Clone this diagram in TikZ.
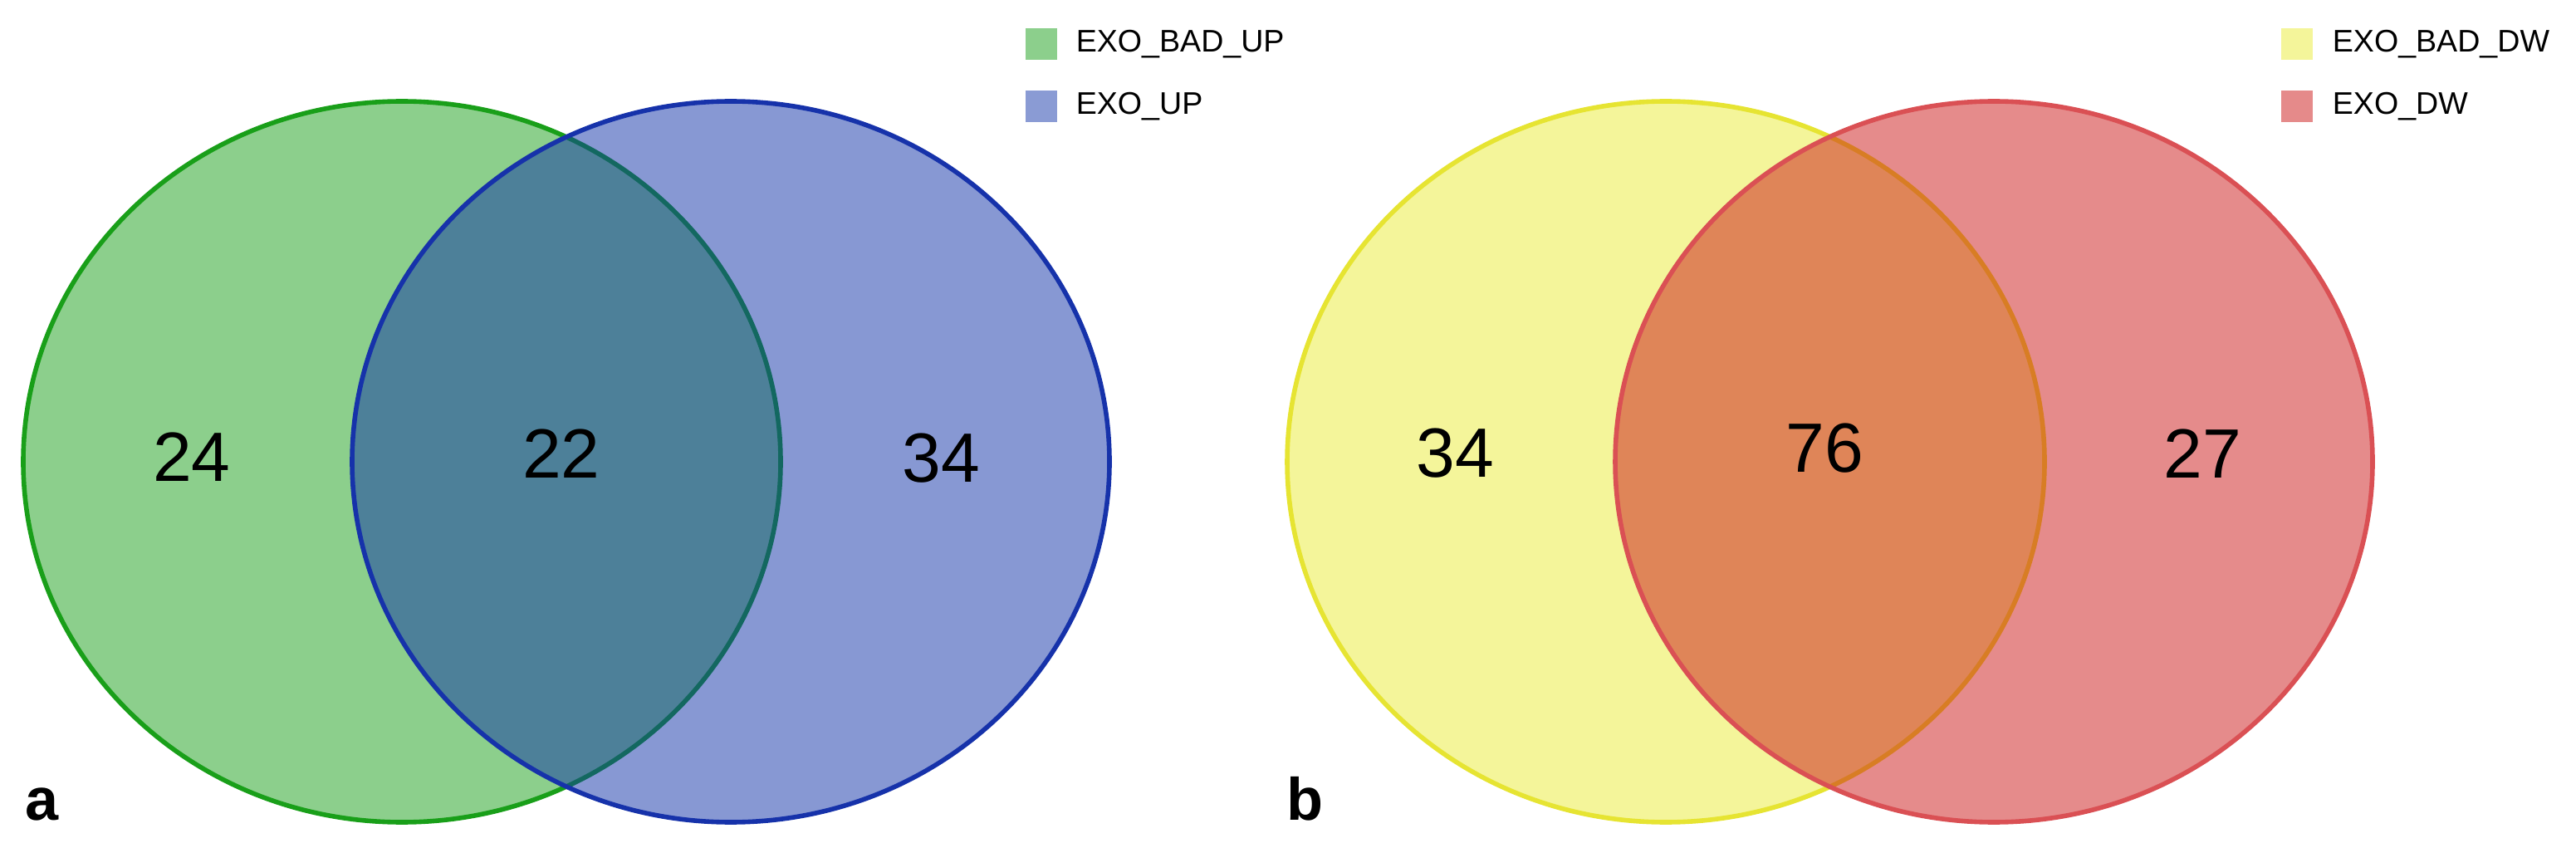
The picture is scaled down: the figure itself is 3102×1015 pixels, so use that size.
\documentclass[tikz,border=0pt]{standalone}
\usepackage{fontspec}
\setmainfont{Liberation Sans}
\definecolor{gbase}{RGB}{25,159,25}
\definecolor{bbase}{RGB}{15,50,167}
\definecolor{bline}{RGB}{22,50,170}
\definecolor{ybase}{RGB}{233,235,53}
\definecolor{yline}{RGB}{230,228,50}
\definecolor{rbase}{RGB}{203,23,23}
\definecolor{rline}{RGB}{218,80,84}
\definecolor{gleg}{RGB}{140,207,140}
\definecolor{bleg}{RGB}{138,155,212}
\definecolor{yleg}{RGB}{244,245,154}
\definecolor{rleg}{RGB}{229,138,138}
\tikzset{
  setline/.style={line width=1.4pt},
  num/.style={font=\fontsize{21}{25}\selectfont, inner sep=0pt},
  legbox/.style={minimum width=9.5pt, minimum height=9.7pt, inner sep=0pt, draw=none},
  legtext/.style={font=\fontsize{9.4}{11}\selectfont, anchor=west, inner sep=0pt},
  panel/.style={font=\fontsize{18}{21}\selectfont\bfseries, anchor=base west, inner sep=0pt}
}
\begin{document}
\begin{tikzpicture}[x=0.25pt,y=-0.25pt]
\useasboundingbox (0,0) rectangle (3102,1015);
% panel a
\draw[setline, draw=gbase, fill=gbase, fill opacity=0.5] (484,556) ellipse [x radius=456, y radius=434];
\draw[setline, draw=bline, fill=bbase, fill opacity=0.5] (880,556) ellipse [x radius=456, y radius=434];
% panel b
\draw[setline, draw=yline, fill=ybase, fill opacity=0.5] (2006,556) ellipse [x radius=456, y radius=434];
\draw[setline, draw=rline, fill=rbase, fill opacity=0.5] (2401,556) ellipse [x radius=456, y radius=434];
% numbers
\node[num] (na1) at (231,550) {24};
\node[num] (na2) at (676,546) {22};
\node[num] (na3) at (1133,552) {34};
\node[num] (nb1) at (1752,546) {34};
\node[num] (nb2) at (2197,540) {76};
\node[num] (nb3) at (2652,546) {27};
% legends
\node[legbox, fill=gleg] (lg1) at (1254,53) {};
\node[legbox, fill=bleg] (lg2) at (1254,128) {};
\node[legtext] (lt1) at (1295,53) {EXO\_BAD\_UP};
\node[legtext] (lt2) at (1295,128) {EXO\_UP};
\node[legbox, fill=yleg] (lg3) at (2766,53) {};
\node[legbox, fill=rleg] (lg4) at (2766,128) {};
\node[legtext] (lt3) at (2808,53) {EXO\_BAD\_DW};
\node[legtext] (lt4) at (2808,128) {EXO\_DW};
% panel labels
\node[panel] (pa) at (30,987) {a};
\node[panel] (pb) at (1549,987) {b};
\end{tikzpicture}
\end{document}
